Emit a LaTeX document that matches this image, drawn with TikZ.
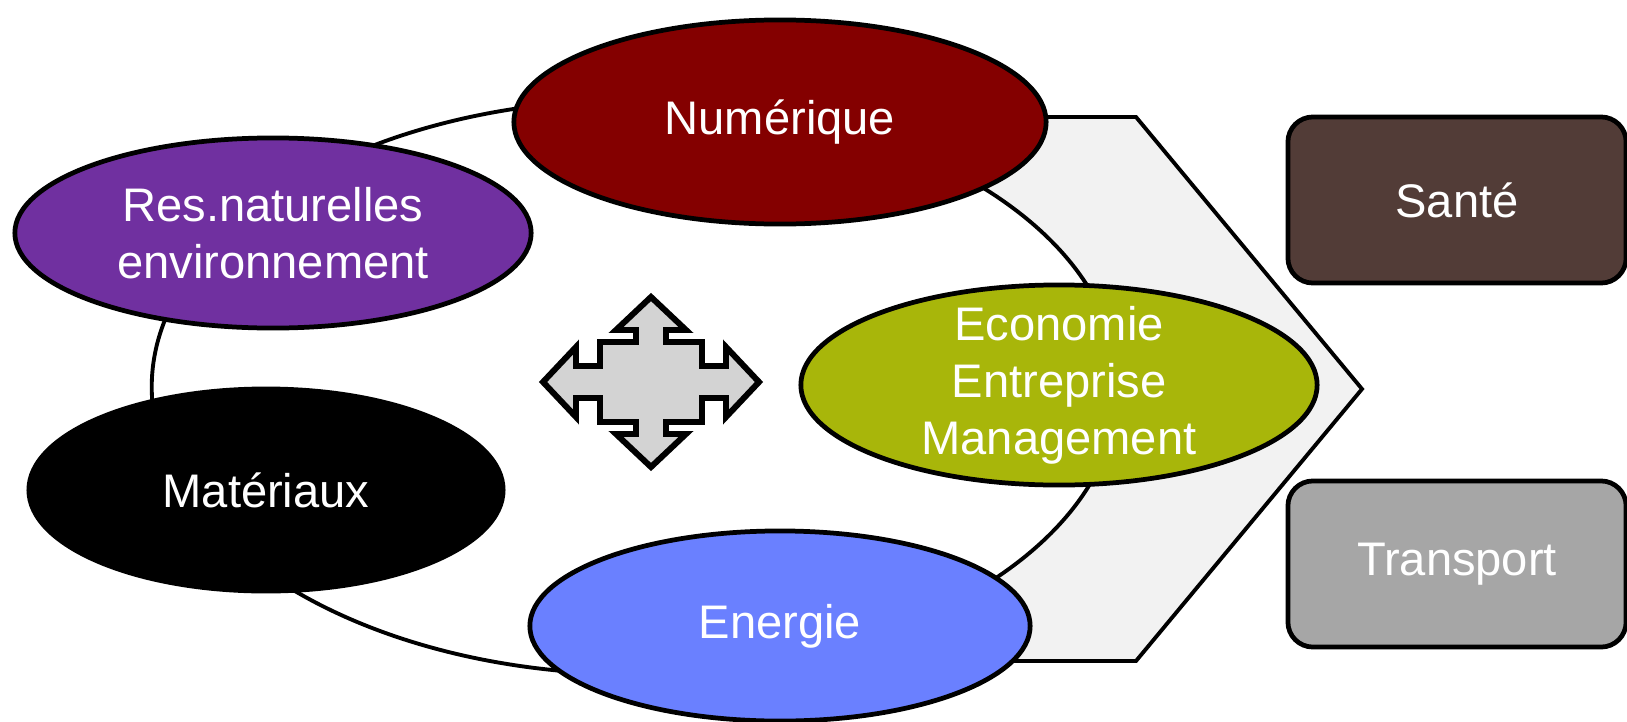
\documentclass[tikz,border=0pt]{standalone}
\usepackage{fontspec}
\setmainfont{Liberation Sans}
\usepackage{xcolor}
\usetikzlibrary{shapes.geometric}

\definecolor{numred}{RGB}{132,0,0}
\definecolor{respurple}{RGB}{112,48,160}
\definecolor{enerblue}{RGB}{106,128,255}
\definecolor{ecoolive}{RGB}{168,182,10}
\definecolor{santebrown}{RGB}{82,60,55}
\definecolor{transgray}{RGB}{166,166,166}
\definecolor{chevgray}{RGB}{242,242,242}
\definecolor{crossgray}{RGB}{211,211,211}

\begin{document}
\begin{tikzpicture}[x=0.01cm, y=-0.01cm]
    \tikzstyle{theme}=[ellipse, draw=black, line width=1.35pt, text=white,
            align=center, inner sep=0pt,
            font=\fontsize{13.4}{16.2}\selectfont]
    \tikzstyle{sector}=[rectangle, rounded corners=0.25cm, draw=black,
            line width=1.35pt, text=white, minimum width=3.38cm,
            minimum height=1.66cm, font=\fontsize{13.4}{16.2}\selectfont]

        \useasboundingbox (0,0) rectangle (1627,721);

        % chevron behind the ring
        \draw[fill=chevgray, line width=1.1pt]
            (674,117) -- (1136,117) -- (1362,389) -- (1136,661)
            -- (674,661) -- cycle;

        \node[ellipse, draw=black, fill=white, line width=1.1pt,
            minimum width=9.66cm, minimum height=5.74cm] (ring) at (635,387) {};

        % four-way arrow
        \begin{scope}[shift={(651,382)}]
            \draw[fill=crossgray, line width=1.7pt, line join=miter]
                (-108,0) -- (-75,-35) -- (-75,-16) -- (-51,-16) -- (-51,-40)
                -- (-15,-40) -- (-15,-52) -- (-35,-52) -- (0,-85)
                -- (35,-52) -- (15,-52) -- (15,-40) -- (51,-40) -- (51,-16)
                -- (75,-16) -- (75,-35) -- (108,0)
                -- (75,35) -- (75,16) -- (51,16) -- (51,40)
                -- (15,40) -- (15,52) -- (35,52) -- (0,85)
                -- (-35,52) -- (-15,52) -- (-15,40) -- (-51,40) -- (-51,16)
                -- (-75,16) -- (-75,35) -- cycle;
        \end{scope}

        \node[theme, fill=numred, minimum width=5.32cm, minimum height=2.04cm]
            (num) at (780,122) {Numérique};
        \node[theme, fill=respurple, minimum width=5.16cm, minimum height=1.9cm]
            (res) at (273,233) {Res.naturelles\\environnement};
        \node[theme, fill=black, minimum width=4.74cm, minimum height=2.02cm]
            (mat) at (266,490) {Matériaux};
        \node[theme, fill=enerblue, minimum width=5.0cm, minimum height=1.9cm]
            (ener) at (780,626) {Energie};
        \node[theme, fill=ecoolive, minimum width=5.16cm, minimum height=2.0cm,
            inner ysep=-6pt]
            (eco) at (1059,385) {Economie\\Entreprise\\Management};

        \node[sector, fill=santebrown] (sante) at (1457,200) {Santé};
        \node[sector, fill=transgray] (transport) at (1457,564) {Transport};
    \end{tikzpicture}
\end{document}
